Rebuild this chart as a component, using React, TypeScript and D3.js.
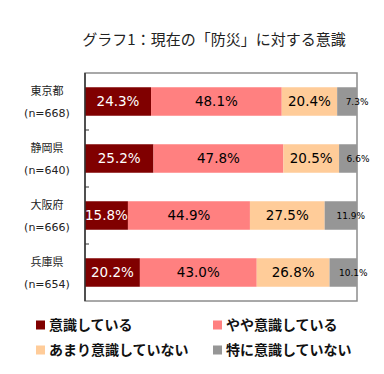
import { useRef, useEffect } from "react";
import * as d3 from "d3";

const prefectures = ["東京都", "静岡県", "大阪府", "兵庫県"];
const sampleSizes = ["(n=668)", "(n=640)", "(n=666)", "(n=654)"];
const seriesNames = ["意識している", "やや意識している", "あまり意識していない", "特に意識していない"];
const aware = [24.3, 25.2, 15.8, 20.2];
const somewhat = [48.1, 47.8, 44.9, 43.0];
const notMuch = [20.4, 20.5, 27.5, 26.8];
const notAtAll = [7.3, 6.6, 11.9, 10.1];
const colors = ["#800000", "#ff8080", "#ffcc99", "#969696"];
const labelColors = ["#ffffff", "#000000", "#000000", "#000000"];

const App = () => {
  const svgRef = useRef(null);

  useEffect(() => {
    const svg = d3.select(svgRef.current);
    svg.selectAll("*").remove();

    const W = 384;
    const H = 374;
    const m = { left: 85, top: 73, right: 27, bottom: 73 };
    const pw = W - m.left - m.right;
    const ph = H - m.top - m.bottom;

    const x = d3.scaleLinear().domain([0, 100]).range([0, pw]);
    const y = d3.scaleBand().domain(prefectures).range([0, ph]).paddingInner(0.5).paddingOuter(0.25);
    const band = d3.scaleBand().domain(prefectures).range([0, ph]);

    const rows = prefectures.map((p, i) => {
      const vals = [aware[i], somewhat[i], notMuch[i], notAtAll[i]];
      const total = d3.sum(vals);
      let acc = 0;
      return vals.map((v, k) => {
        const seg = { p, k, v, x0: (acc / total) * 100, x1: ((acc + v) / total) * 100 };
        acc += v;
        return seg;
      });
    });

    // title
    svg
      .append("text")
      .attr("x", 214)
      .attr("y", 45)
      .attr("text-anchor", "middle")
      .style("font-family", "'Noto Sans CJK JP', sans-serif")
      .style("font-size", "15px")
      .attr("fill", "#222")
      .text("グラフ1：現在の「防災」に対する意識");

    svg
      .append("defs")
      .append("clipPath")
      .attr("id", "plotclip")
      .append("rect")
      .attr("x", m.left)
      .attr("y", 0)
      .attr("width", W - m.left)
      .attr("height", H);

    // box
    svg
      .append("rect")
      .attr("x", m.left)
      .attr("y", m.top)
      .attr("width", pw)
      .attr("height", ph)
      .attr("fill", "#fff")
      .attr("stroke", "#8c8c8c")
      .attr("stroke-width", 1.5);

    const g = svg.append("g").attr("transform", `translate(${m.left},${m.top})`);

    const segs = rows.flat();
    g.selectAll("rect.seg")
      .data(segs)
      .join("rect")
      .attr("class", "seg")
      .attr("x", (d) => x(d.x0))
      .attr("y", (d) => y(d.p))
      .attr("width", (d) => x(d.x1) - x(d.x0))
      .attr("height", y.bandwidth())
      .attr("fill", (d) => colors[d.k]);

    const labels = svg.append("g").attr("clip-path", "url(#plotclip)").append("g").attr("transform", `translate(${m.left},${m.top})`);
    labels
      .selectAll("text")
      .data(segs)
      .join("text")
      .attr("x", (d) => x((d.x0 + d.x1) / 2) + (d.k === 3 ? 10 : 0))
      .attr("y", (d) => y(d.p) + y.bandwidth() / 2)
      .attr("dy", "0.36em")
      .attr("text-anchor", "middle")
      .style("font-family", "'DejaVu Sans', sans-serif")
      .style("font-size", (d) => (d.k === 3 ? "9px" : "13.5px"))
      .attr("fill", (d) => labelColors[d.k])
      .text((d) => d.v.toFixed(1) + "%");

    // left axis
    g.append("line")
      .attr("x1", 0)
      .attr("x2", 0)
      .attr("y1", 0)
      .attr("y2", ph)
      .attr("stroke", "#333")
      .attr("stroke-width", 1.5);
    g.selectAll("line.tick")
      .data(prefectures.slice(1))
      .join("line")
      .attr("class", "tick")
      .attr("x1", 0)
      .attr("x2", 4)
      .attr("y1", (d) => band(d))
      .attr("y2", (d) => band(d))
      .attr("stroke", "#333");

    // category labels
    const cat = g
      .selectAll("g.cat")
      .data(prefectures)
      .join("g")
      .attr("class", "cat")
      .attr("transform", (d) => `translate(-38,${band(d) + band.bandwidth() / 2})`);
    cat
      .append("text")
      .attr("y", -7)
      .attr("text-anchor", "middle")
      .style("font-family", "'Noto Sans CJK JP', sans-serif")
      .style("font-size", "11px")
      .attr("fill", "#222")
      .text((d) => d);
    cat
      .append("text")
      .attr("y", 15)
      .attr("text-anchor", "middle")
      .style("font-family", "'DejaVu Sans', sans-serif")
      .style("font-size", "11px")
      .attr("fill", "#222")
      .text((d, i) => sampleSizes[i]);

    // legend
    const legend = svg
      .selectAll("g.legend")
      .data(seriesNames)
      .join("g")
      .attr("class", "legend")
      .attr("transform", (d, i) => `translate(${i % 2 === 0 ? 36 : 213},${i < 2 ? 325 : 350})`);
    legend
      .append("rect")
      .attr("x", 0)
      .attr("y", -4.5)
      .attr("width", 9)
      .attr("height", 9)
      .attr("fill", (d, i) => colors[i]);
    legend
      .append("text")
      .attr("x", 13)
      .attr("dy", "0.36em")
      .style("font-family", "'Noto Sans CJK JP', sans-serif")
      .style("font-size", "14px")
      .style("font-weight", "bold")
      .attr("fill", "#111")
      .text((d) => d);
  }, []);

  return (
    <div style={{ width: 384, height: 374, margin: "-8px" }}>
      <svg ref={svgRef} width={384} height={374} style={{ display: "block", background: "#fff" }} />
    </div>
  );
};

export default App;
